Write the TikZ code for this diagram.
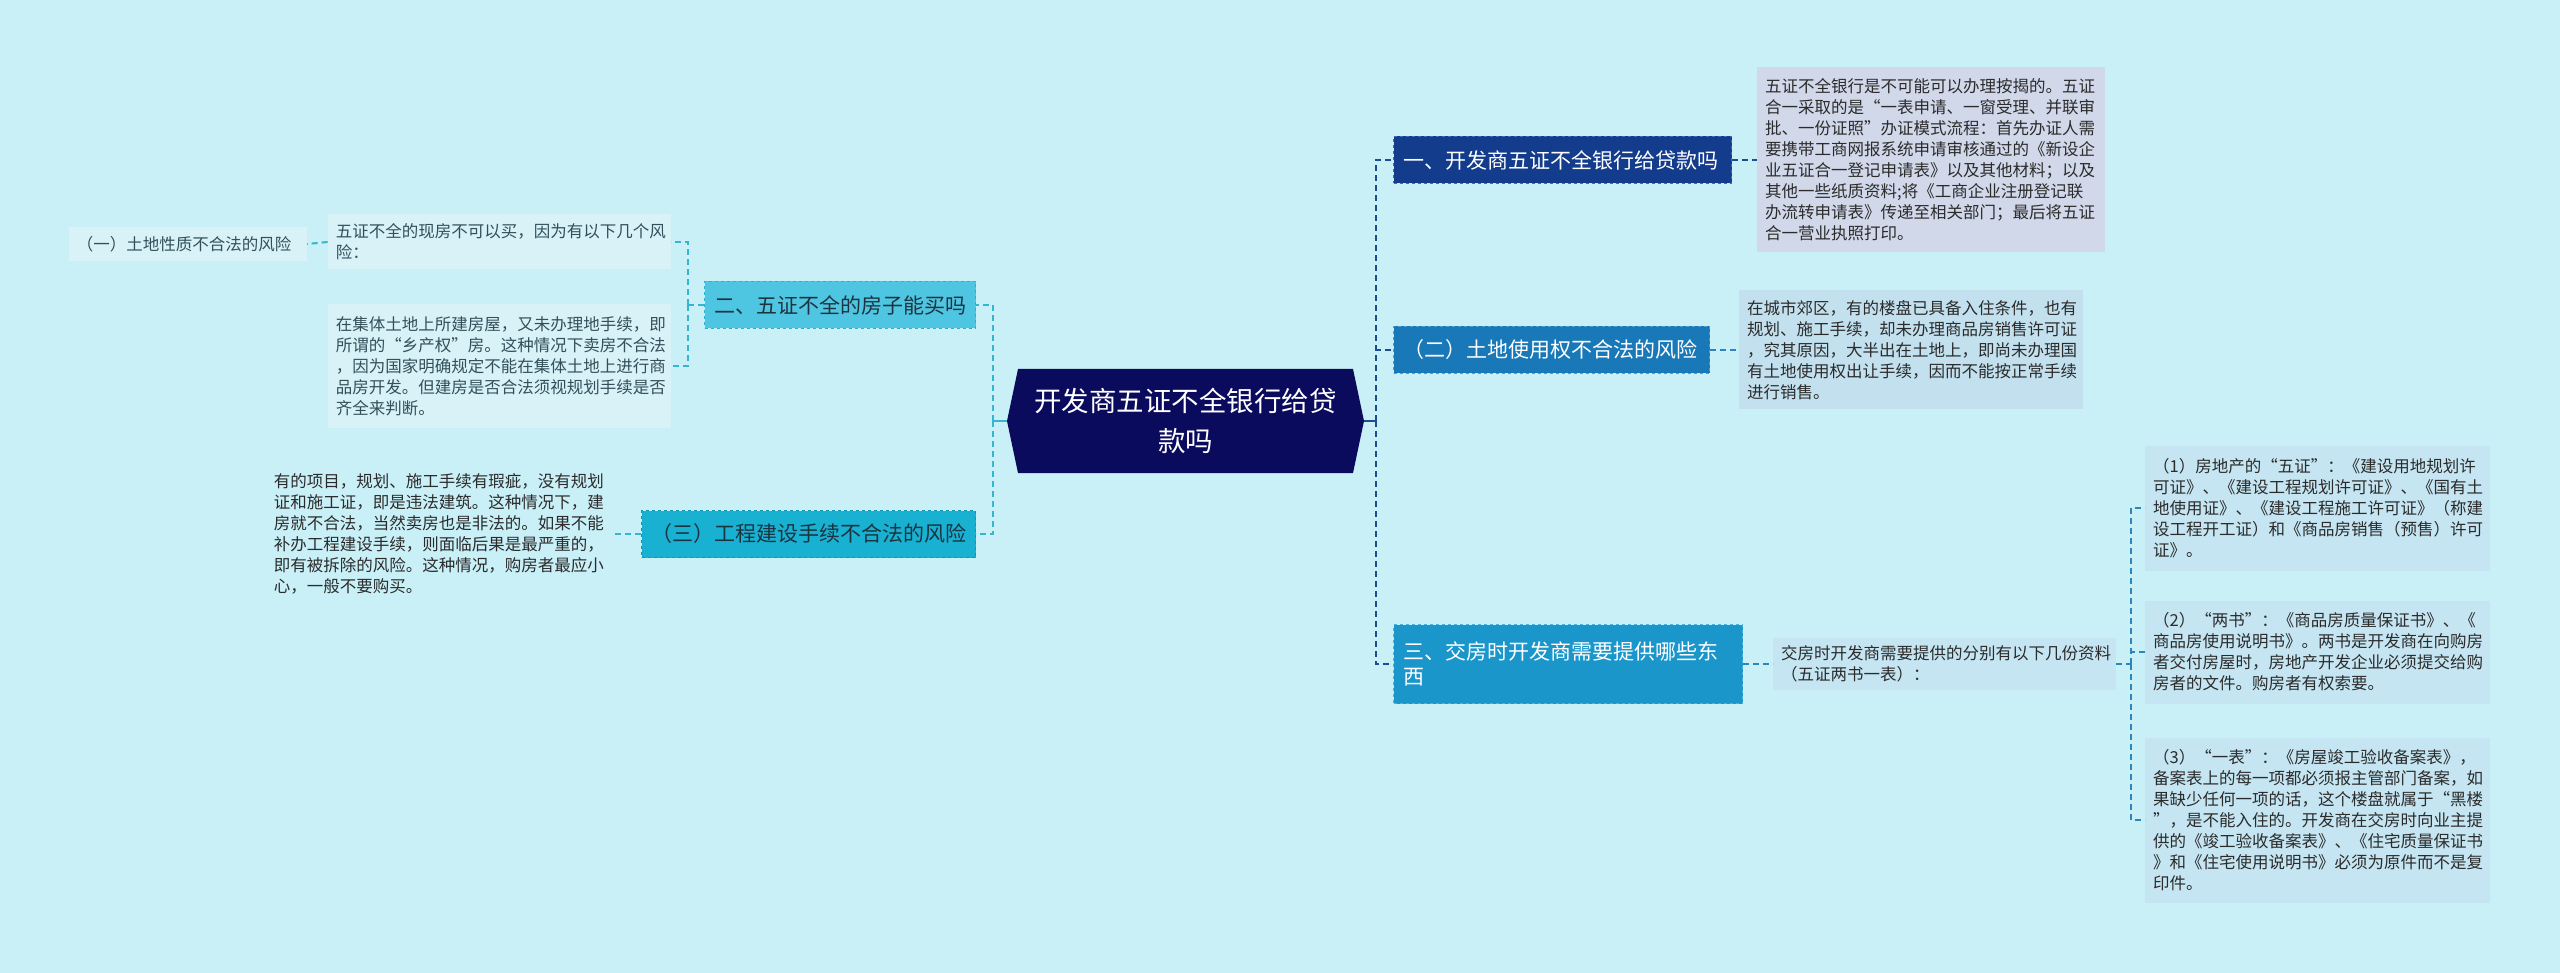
\documentclass[tikz,border=0pt]{standalone}
\usepackage{fontspec}
\setmainfont{Noto Sans CJK SC}
\definecolor{bg}{HTML}{C9EFF7}
\definecolor{navy}{HTML}{0B0B5E}
\definecolor{ba}{HTML}{143C8C}
\definecolor{bab}{HTML}{3A6FB8}
\definecolor{bb}{HTML}{1878B8}
\definecolor{bbb}{HTML}{4A9ED3}
\definecolor{bcc}{HTML}{1A96CA}
\definecolor{bcb}{HTML}{4DB3DE}
\definecolor{lbtwo}{HTML}{4FC6E1}
\definecolor{lbtwob}{HTML}{2FB0CE}
\definecolor{lbthree}{HTML}{18B1D2}
\definecolor{lbthreeb}{HTML}{0E96BA}
\definecolor{fa}{HTML}{D1D8EA}
\definecolor{fb}{HTML}{C2E0EE}
\definecolor{fc}{HTML}{C4E5F1}
\definecolor{fl}{HTML}{D8F2F8}
\definecolor{txt}{HTML}{2B2B2B}
\definecolor{ltxt}{HTML}{33505A}
\definecolor{dtxt}{HTML}{1C3340}
\definecolor{lnA}{HTML}{1E4D8F}
\definecolor{lnB}{HTML}{2A86BD}
\definecolor{lnL}{HTML}{38B4CF}
\tikzset{
  smallfont/.style={font=\fontsize{16.5}{21}\selectfont},
  tbox/.style={smallfont, align=left, inner xsep=8pt, inner ysep=0pt, text=txt},
  branch/.style={font=\fontsize{21}{24.5}\selectfont, align=left, inner xsep=10pt, inner ysep=0pt, draw, dashed, line width=1pt, minimum height=47pt},
  conn/.style={line width=2pt, dash pattern=on 6pt off 4pt},
}
\begin{document}
\begin{tikzpicture}[x=1pt,y=-1pt]
\fill[bg] (0,0) rectangle (2560,973);
\useasboundingbox (0,0) rectangle (2560,973);

% central
\fill[navy] (1007,421) -- (1018,369) -- (1353,369) -- (1364,421) -- (1353,473) -- (1018,473) -- cycle;
\node[minimum width=357pt, minimum height=104pt, inner sep=0pt, text=white, font=\fontsize{27.5}{40}\selectfont, align=center] (ctr) at (1185.5,421) {开发商五证不全银行给贷\\款吗};

% right branches
\node[branch, fill=ba, draw=bab, text=white, anchor=west, text width=318pt] (na) at (1393,160) {一、开发商五证不全银行给贷款吗};
\node[branch, fill=bb, draw=bbb, text=white, anchor=west, text width=296pt] (nb) at (1393,350) {（二）土地使用权不合法的风险};
\node[branch, fill=bcc, draw=bcb, text=white, anchor=west, text width=329pt, minimum height=79pt] (nc) at (1393,664) {三、交房时开发商需要提供哪些东\\西};

\node[tbox, fill=fa, anchor=west, text width=332pt, minimum height=185pt] (ac) at (1757,160) {五证不全银行是不可能可以办理按揭的。五证\\合一采取的是“一表申请、一窗受理、并联审\\批、一份证照”办证模式流程：首先办证人需\\要携带工商网报系统申请审核通过的《新设企\\业五证合一登记申请表》以及其他材料；以及\\其他一些纸质资料;将《工商企业注册登记联\\办流转申请表》传递至相关部门；最后将五证\\合一营业执照打印。};
\node[tbox, fill=fb, anchor=west, text width=328pt, minimum height=119pt] (bc) at (1739,350) {在城市郊区，有的楼盘已具备入住条件，也有\\规划、施工手续，却未办理商品房销售许可证\\，究其原因，大半出在土地上，即尚未办理国\\有土地使用权出让手续，因而不能按正常手续\\进行销售。};
\node[tbox, fill=fc, anchor=west, text width=327pt, minimum height=52pt] (cc) at (1773,664) {交房时开发商需要提供的分别有以下几份资料\\（五证两书一表）：};
\node[tbox, fill=fc, anchor=west, text width=329pt, minimum height=125pt] (g1) at (2145,508) {（1）房地产的“五证”：《建设用地规划许\\可证》、《建设工程规划许可证》、《国有土\\地使用证》、《建设工程施工许可证》（称建\\设工程开工证）和《商品房销售（预售）许可\\证》。};
\node[tbox, fill=fc, anchor=west, text width=329pt, minimum height=103pt] (g2) at (2145,652) {（2）“两书”：《商品房质量保证书》、《\\商品房使用说明书》。两书是开发商在向购房\\者交付房屋时，房地产开发企业必须提交给购\\房者的文件。购房者有权索要。};
\node[tbox, fill=fc, anchor=west, text width=329pt, minimum height=165pt] (g3) at (2145,820) {（3）“一表”：《房屋竣工验收备案表》，\\备案表上的每一项都必须报主管部门备案，如\\果缺少任何一项的话，这个楼盘就属于“黑楼\\”，是不能入住的。开发商在交房时向业主提\\供的《竣工验收备案表》、《住宅质量保证书\\》和《住宅使用说明书》必须为原件而不是复\\印件。};

% left branches
\node[branch, fill=lbtwo, draw=lbtwob, text=dtxt, anchor=east, text width=251pt] (n2) at (976,305) {二、五证不全的房子能买吗};
\node[branch, fill=lbthree, draw=lbthreeb, text=dtxt, anchor=east, text width=314pt] (n3) at (976,534) {（三）工程建设手续不合法的风险};

\node[tbox, fill=fl, text=ltxt, anchor=east, text width=327pt, minimum height=55pt] (l1) at (671,242) {五证不全的现房不可以买，因为有以下几个风\\险：};
\node[tbox, fill=fl, text=ltxt, anchor=east, text width=327pt, minimum height=124pt] (l2) at (671,366) {在集体土地上所建房屋，又未办理地手续，即\\所谓的“乡产权”房。这种情况下卖房不合法\\，因为国家明确规定不能在集体土地上进行商\\品房开发。但建房是否合法须视规划手续是否\\齐全来判断。};
\node[tbox, fill=fl, text=ltxt, anchor=east, text width=222pt, minimum height=34pt] (leaf) at (307,244) {（一）土地性质不合法的风险};
\node[tbox, anchor=east, text width=330pt, minimum height=131pt] (l3) at (612,534) {有的项目，规划、施工手续有瑕疵，没有规划\\证和施工证，即是违法建筑。这种情况下，建\\房就不合法，当然卖房也是非法的。如果不能\\补办工程建设手续，则面临后果是最严重的，\\即有被拆除的风险。这种情况，购房者最应小\\心，一般不要购买。};

% connectors right
\coordinate (rt) at (1376,421);
\draw[line width=2pt, lnA] (ctr.east) -- (rt);
\draw[conn, lnA] (rt) |- (na.west);
\draw[conn, lnA] (rt) |- (nb.west);
\draw[conn, lnA] (rt) |- (nc.west);
\draw[conn, lnA] (na.east) -- (ac.west);
\draw[conn, lnB] (nb.east) -- (bc.west);
\draw[conn, lnB] (nc.east) -- (cc.west);
\coordinate (rt2) at (2131,664);
\draw[conn, lnB] (cc.east) -- (rt2);
\draw[conn, lnB] (rt2) |- (g1.west);
\draw[conn, lnB] (rt2) |- (g2.west);
\draw[conn, lnB] (rt2) |- (g3.west);

% connectors left
\coordinate (lt) at (993,421);
\draw[line width=2pt, lnL] (ctr.west) -- (lt);
\draw[conn, lnL] (lt) |- (n2.east);
\draw[conn, lnL] (lt) |- (n3.east);
\coordinate (lt2) at (688,305);
\draw[conn, lnL] (n2.west) -- (lt2);
\draw[conn, lnL] (lt2) |- (l1.east);
\draw[conn, lnL] (lt2) |- (l2.east);
\draw[conn, lnL] (l1.west) -- (leaf.east);
\draw[conn, lnL] (n3.west) -- (l3.east);
\end{tikzpicture}
\end{document}
